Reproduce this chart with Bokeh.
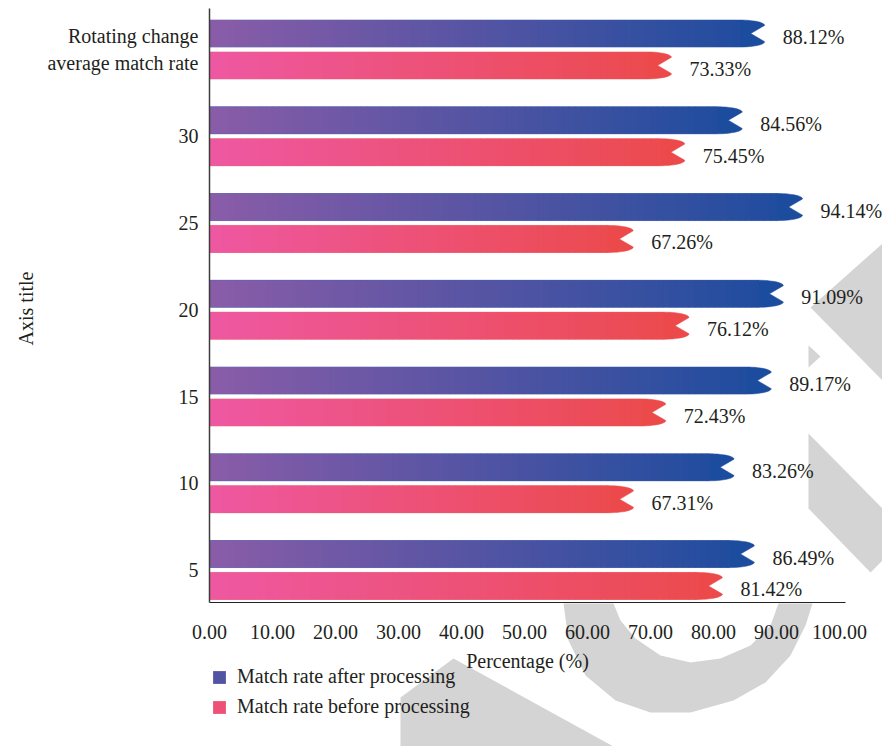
import numpy as np
from bokeh.plotting import figure
from bokeh.models import (ColumnDataSource, Range1d, FixedTicker, NumeralTickFormatter,
                          LabelSet, Label, Legend, LegendItem, PolyAnnotation)
from bokeh.core.properties import value
from bokeh.embed import file_html
from bokeh.resources import INLINE

# ---------------- data ----------------
categories = ["Rotating change\naverage match rate", "30", "25", "20", "15", "10", "5"]
after_vals = [88.12, 84.56, 94.14, 91.09, 89.17, 83.26, 86.49]
before_vals = [73.33, 75.45, 67.26, 76.12, 72.43, 67.31, 81.42]
x_ticks = [0, 10, 20, 30, 40, 50, 60, 70, 80, 90, 100]
series_names = ["Match rate after processing", "Match rate before processing"]
x_title = "Percentage (%)"
y_title = "Axis title"

FONT = "Liberation Serif"
TXT = "#231f20"
FS = "20px"

AFTER_C0, AFTER_C1 = (138, 92, 168), (28, 76, 158)
BEFORE_C0, BEFORE_C1 = (238, 88, 162), (236, 74, 74)


def lerp(c0, c1, f):
    return "#%02x%02x%02x" % tuple(int(round(a + (b - a) * f)) for a, b in zip(c0, c1))


n = len(categories)
pos = [n - 1 - i for i in range(n)]

W, H = 882, 746
X0_PX, X_SCALE = 209, 6.3          # pixel of x=0, pixels per unit
Y0_PX, Y_SCALE = 569.5, 86.75      # pixel of the lowest category, pixels per category
AX_BOTTOM_PX, AX_TOP_PX, AX_RIGHT_PX = 602, 8, 845


def ydata(py):
    return (Y0_PX - py) / Y_SCALE


def xdata(px):
    return (px - X0_PX) / X_SCALE


p = figure(width=W, height=H, output_backend="svg", toolbar_location=None,
           x_range=Range1d(xdata(0), xdata(W)), y_range=Range1d(ydata(H), ydata(0)),
           min_border=0, min_border_left=0, min_border_right=0,
           min_border_top=0, min_border_bottom=0)
p.outline_line_color = None
p.grid.visible = False
p.background_fill_color = "white"
p.border_fill_color = "white"

# watermark (light grey, beneath everything)
WM = "#d4d4d4"
wm_shapes = [
    ([810, 882, 882], [307, 243, 380]),
    ([808, 820, 808], [345, 356, 367]),
    ([808, 882, 882, 870, 808], [433, 508, 560, 572, 508]),
    ([563, 568, 585, 615, 650, 690, 733, 765, 790, 805, 812, 778, 770, 750, 720, 690, 660, 635, 620, 613],
     [603, 640, 675, 700, 712, 712, 700, 682, 655, 625, 603, 603, 625, 645, 658, 662, 655, 638, 620, 603]),
    ([453, 400, 400, 613], [658, 697, 746, 746]),
]
for xs, ys in wm_shapes:
    p.add_layout(PolyAnnotation(xs=xs, ys=ys, xs_units="canvas", ys_units="canvas",
                                fill_color=WM, fill_alpha=1.0, line_color=None, level="underlay"))

HH = 0.156   # half bar height
OFF = 0.184  # offset of each bar from the category centre
L = 4.0      # length of the rounded end
N = 2.2      # depth of the notch
TIPF = 0.6


def end_shape(v, yc):
    xs, ys = [0, 0], [yc - HH, yc + HH]
    for t in np.linspace(0, np.pi / 2, 14):
        xs.append(v - L + L * np.sin(t))
        ys.append(yc + TIPF * HH + (1 - TIPF) * HH * np.cos(t))
    xs.append(v - N)
    ys.append(yc)
    for t in np.linspace(np.pi / 2, 0, 14):
        xs.append(v - L + L * np.sin(t))
        ys.append(yc - TIPF * HH - (1 - TIPF) * HH * np.cos(t))
    return xs, ys


def draw_series(vals, dy, c0, c1):
    pxs, pys, pcol = [], [], []
    ql, qr, qt, qb, qc = [], [], [], [], []
    mid_index = None
    for v, yc0 in zip(vals, pos):
        yc = yc0 + dy
        xs, ys = end_shape(v, yc)
        pxs.append(xs); pys.append(ys); pcol.append(lerp(c0, c1, 1.0))
        for a in np.arange(0, v - L, 1.0):
            b = min(a + 1.0, v - L)
            if mid_index is None and (a + b) / 2 / v >= 0.5:
                mid_index = len(ql)
            ql.append(a); qr.append(b + 0.15); qt.append(yc + HH); qb.append(yc - HH)
            qc.append(lerp(c0, c1, (a + b) / 2 / v))
    p.patches(xs=pxs, ys=pys, fill_color=pcol, line_color=pcol, line_width=0.5)
    r = p.quad(left=ql, right=qr, top=qt, bottom=qb, fill_color=qc, line_color=None)
    return r, mid_index


r_after, i_after = draw_series(after_vals, OFF, AFTER_C0, AFTER_C1)
r_before, i_before = draw_series(before_vals, -OFF, BEFORE_C0, BEFORE_C1)

# value labels
lab_src = ColumnDataSource(dict(
    x=after_vals + before_vals,
    y=[q + OFF for q in pos] + [q - OFF for q in pos],
    t=["%.2f%%" % v for v in after_vals] + ["%.2f%%" % v for v in before_vals],
))
p.add_layout(LabelSet(x="x", y="y", text="t", source=lab_src, x_offset=18, y_offset=-3.5,
                      text_align="left", text_baseline="middle",
                      text_font=value(FONT), text_font_size=value(FS), text_color=TXT))

# axis titles
p.add_layout(Label(x=527, y=660, x_units="canvas", y_units="canvas", text=x_title,
                   text_align="center", text_baseline="middle",
                   text_font=FONT, text_font_size=FS, text_color=TXT))
p.add_layout(Label(x=25, y=308, x_units="canvas", y_units="canvas", text=y_title, angle=np.pi / 2,
                   text_align="center", text_baseline="middle",
                   text_font=FONT, text_font_size=FS, text_color=TXT))

# legend
legend = Legend(items=[LegendItem(label=series_names[0], renderers=[r_after], index=i_after),
                       LegendItem(label=series_names[1], renderers=[r_before], index=i_before)],
                location=(211, 28), orientation="vertical",
                glyph_width=16, glyph_height=16, label_standoff=10, spacing=7, label_height=20,
                padding=5, margin=0, border_line_color=None, background_fill_alpha=0,
                label_text_font=FONT, label_text_font_size=FS, label_text_color=TXT)
p.add_layout(legend, "center")

# axes (drawn at fixed locations inside the full-canvas frame)
xa = p.xaxis[0]
xa.fixed_location = ydata(AX_BOTTOM_PX)
xa.bounds = (0, xdata(AX_RIGHT_PX))
xa.ticker = FixedTicker(ticks=x_ticks)
xa.formatter = NumeralTickFormatter(format="0.00")
xa.axis_line_color = "#222222"
xa.axis_line_width = 1.2
xa.major_tick_line_color = None
xa.minor_tick_line_color = None
xa.major_label_standoff = 16
xa.major_label_text_font = FONT
xa.major_label_text_font_size = FS
xa.major_label_text_color = TXT

ya = p.yaxis[0]
ya.fixed_location = 0
ya.bounds = (ydata(AX_BOTTOM_PX), ydata(AX_TOP_PX))
ya.ticker = FixedTicker(ticks=pos)
ya.major_label_overrides = {q: c for q, c in zip(pos, categories)}
ya.axis_line_color = "#3c3c3c"
ya.axis_line_width = 1.5
ya.major_tick_line_color = None
ya.minor_tick_line_color = None
ya.major_label_standoff = 5
ya.major_label_text_font = FONT
ya.major_label_text_font_size = FS
ya.major_label_text_color = TXT

open("out.html", "w").write(file_html(p, INLINE))
